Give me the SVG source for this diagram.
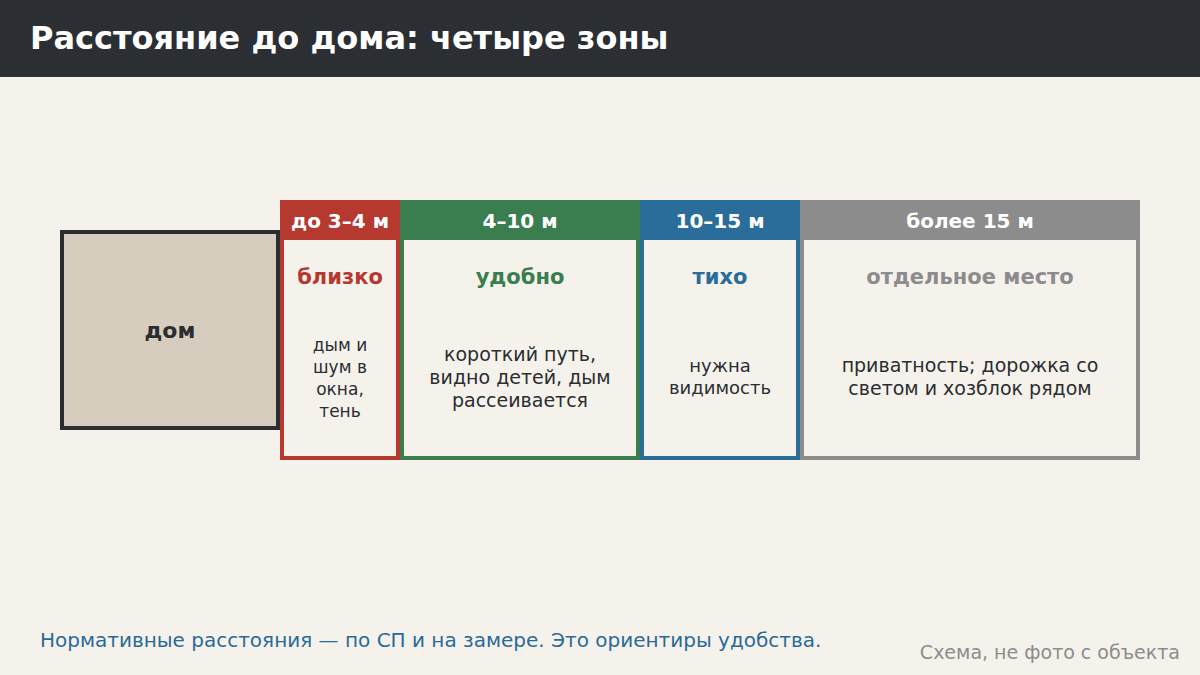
<svg xmlns="http://www.w3.org/2000/svg" width="1200" height="675" viewBox="0 0 1200 675">
<style>
text{font-family:"DejaVu Sans","Noto Sans",sans-serif}
.hd{font-size:20px;font-weight:bold;fill:#ffffff;text-anchor:middle}
.sub{font-size:21px;font-weight:bold;text-anchor:middle}
.bd{font-size:19px;fill:#2b2d31;text-anchor:middle}
.bdm{font-size:18px;fill:#2b2d31;text-anchor:middle}
.bds{font-size:17px;fill:#2b2d31;text-anchor:middle}
.body{fill:#f5f2ec;stroke-width:4}
</style>
<rect x="0" y="0" width="1200" height="675" fill="#f5f2ec"/>
<rect x="0" y="0" width="1200" height="77" fill="#2b2e33"/>
<text x="30" y="49" font-size="32" font-weight="bold" fill="#ffffff">Расстояние до дома: четыре зоны</text>
<g id="house">
<rect x="62" y="232" width="216" height="196" fill="#d6cdbf" stroke="#2b2d31" stroke-width="4"/>
<text x="170" y="338" font-size="22" font-weight="bold" fill="#2b2d31" text-anchor="middle">дом</text>
</g>
<g id="zone1">
<rect class="body" x="282" y="202" width="116" height="256" stroke="#b5392f"/>
<rect x="280" y="200" width="120" height="40" fill="#b5392f"/>
<text class="hd" x="340" y="228">до 3–4 м</text>
<text class="sub" x="340" y="284" fill="#b5392f">близко</text>
<text class="bds" x="340" y="351">дым и</text>
<text class="bds" x="340" y="373">шум в</text>
<text class="bds" x="340" y="395">окна,</text>
<text class="bds" x="340" y="417">тень</text>
</g>
<g id="zone2">
<rect class="body" x="402" y="202" width="236" height="256" stroke="#3a7d4f"/>
<rect x="400" y="200" width="240" height="40" fill="#3a7d4f"/>
<text class="hd" x="520" y="228">4–10 м</text>
<text class="sub" x="520" y="284" fill="#3a7d4f">удобно</text>
<text class="bd" x="520" y="361">короткий путь,</text>
<text class="bd" x="520" y="384">видно детей, дым</text>
<text class="bd" x="520" y="407">рассеивается</text>
</g>
<g id="zone3">
<rect class="body" x="642" y="202" width="156" height="256" stroke="#2a6c9a"/>
<rect x="640" y="200" width="160" height="40" fill="#2a6c9a"/>
<text class="hd" x="720" y="228">10–15 м</text>
<text class="sub" x="720" y="284" fill="#2a6c9a">тихо</text>
<text class="bdm" x="720" y="372">нужна</text>
<text class="bdm" x="720" y="394">видимость</text>
</g>
<g id="zone4">
<rect class="body" x="802" y="202" width="336" height="256" stroke="#8c8c8c"/>
<rect x="800" y="200" width="340" height="40" fill="#8c8c8c"/>
<text class="hd" x="970" y="228">более 15 м</text>
<text class="sub" x="970" y="284" fill="#8c8c8c">отдельное место</text>
<text class="bd" x="970" y="372">приватность; дорожка со</text>
<text class="bd" x="970" y="395">светом и хозблок рядом</text>
</g>
<g id="connectors"></g>
<text x="40" y="647" font-size="20" fill="#2a6a99">Нормативные расстояния — по СП и на замере. Это ориентиры удобства.</text>
<text x="1180" y="659" font-size="19" fill="#8c8c8c" text-anchor="end">Схема, не фото с объекта</text>
</svg>
